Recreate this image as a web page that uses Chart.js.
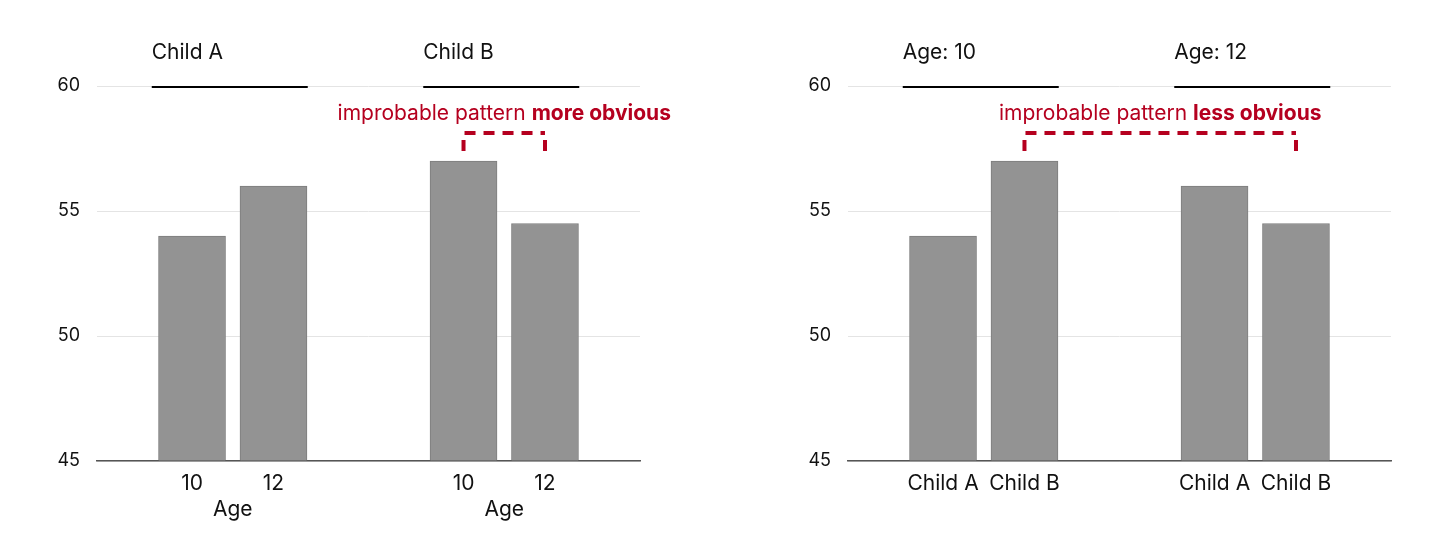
<!DOCTYPE html>
<html>
<head>
<meta charset="utf-8">
<script src="https://cdn.jsdelivr.net/npm/chart.js@4"></script>
<style>
  html, body { margin: 0; padding: 0; background: #fff; }
  .wrap { position: absolute; top: 0; width: 728px; height: 554px; }
  #w1 { left: 0; }
  #w2 { left: 728px; }
</style>
</head>
<body>
<div class="wrap" id="w1"><canvas id="leftChart"></canvas></div>
<div class="wrap" id="w2"><canvas id="rightChart"></canvas></div>
<script>
// values
const yTicks = [45, 50, 55, 60];

const leftGroups = ['Child A', 'Child B'];
const leftTicks = ['10', '12'];
const leftAxisTitle = 'Age';
const leftValues = [54, 56, 57, 54.5];
const leftNote = ['improbable pattern ', 'more obvious'];
const leftPair = [2, 3];

const rightGroups = ['Age: 10', 'Age: 12'];
const rightTicks = ['Child A', 'Child B'];
const rightValues = [54, 57, 56, 54.5];
const rightNote = ['improbable pattern ', 'less obvious'];
const rightPair = [1, 3];

const FONT = 'Inter, "Noto Sans", sans-serif';
const RED = '#b5001f';
const INK = '#111';

// bar slots: two groups of two on a 0..10 linear axis
function slot(i) {
    const g = Math.floor(i / 2);
    return 2.5 + 5 * g + (i % 2 === 0 ? -0.75 : 0.75);
}

const annotate = {
    id: 'annotate',
    afterDraw(chart, args, opts) {
        const ctx = chart.ctx;
        const x = chart.scales.x;
        const y = chart.scales.y;
        const top = y.getPixelForValue(60);
        ctx.save();
        // group headers
        opts.groups.forEach((name, g) => {
            const c = x.getPixelForValue(2.5 + 5 * g);
            ctx.fillStyle = INK;
            ctx.font = '21px ' + FONT;
            ctx.textAlign = 'left';
            ctx.textBaseline = 'alphabetic';
            ctx.fillText(name, c - 81, 59);
            ctx.strokeStyle = '#000';
            ctx.lineWidth = 2;
            ctx.beginPath();
            ctx.moveTo(c - 81, top + 1);
            ctx.lineTo(c + 75, top + 1);
            ctx.stroke();
        });
        // dashed bracket
        const xa = x.getPixelForValue(slot(opts.pair[0]));
        const xb = x.getPixelForValue(slot(opts.pair[1]));
        const yTop = top + 47;
        const yBot = top + 65;
        ctx.strokeStyle = RED;
        ctx.lineWidth = 4;
        ctx.setLineDash([11, 8]);
        ctx.beginPath();
        ctx.moveTo(xa, yBot);
        ctx.lineTo(xa, yTop);
        ctx.lineTo(xb, yTop);
        ctx.stroke();
        // right leg drawn from the bottom up so it always shows
        ctx.beginPath();
        ctx.moveTo(xb, yBot);
        ctx.lineTo(xb, yTop);
        ctx.stroke();
        ctx.setLineDash([]);
        // note text, centred over the bracket
        const mid = (xa + xb) / 2;
        ctx.font = '21px ' + FONT;
        const w1 = ctx.measureText(opts.note[0]).width;
        ctx.font = 'bold 21px ' + FONT;
        const w2 = ctx.measureText(opts.note[1]).width;
        const start = mid - (w1 + w2) / 2;
        ctx.fillStyle = RED;
        ctx.textAlign = 'left';
        ctx.font = '21px ' + FONT;
        ctx.fillText(opts.note[0], start, top + 34);
        ctx.font = 'bold 21px ' + FONT;
        ctx.fillText(opts.note[1], start + w1, top + 34);
        ctx.restore();
    }
};

function makeChart(id, values, groups, ticks, axisTitle, note, pair, axisWidth, padRight) {
    const scales = {
        x: {
            type: 'linear',
            min: 0,
            max: 10,
            offset: false,
            afterBuildTicks: s => { s.ticks = values.map((v, i) => ({ value: slot(i) })); },
            afterFit: s => { s.height = 36; },
            ticks: {
                autoSkip: false,
                maxRotation: 0,
                padding: 10,
                color: INK,
                font: { family: FONT, size: 21 },
                callback: (v, i) => ticks[i % 2]
            },
            grid: { display: false, drawTicks: false, offset: false },
            border: { display: true, color: '#555', width: 1.5 }
        },
        y: {
            min: 45,
            max: 60,
            afterBuildTicks: s => { s.ticks = yTicks.map(v => ({ value: v })); },
            afterFit: s => { s.width = axisWidth; },
            ticks: {
                padding: 17,
                color: INK,
                font: { family: FONT, size: 18 }
            },
            grid: { color: '#e4e4e4', lineWidth: 1, drawTicks: false },
            border: { display: false }
        }
    };
    if (axisTitle) {
        scales.x2 = {
            type: 'linear',
            position: 'bottom',
            min: 0,
            max: 10,
            offset: false,
            afterBuildTicks: s => { s.ticks = groups.map((g, i) => ({ value: 2.5 + 5 * i })); },
            afterFit: s => { s.height = 26; },
            ticks: {
                autoSkip: false,
                maxRotation: 0,
                padding: 0,
                color: INK,
                font: { family: FONT, size: 21 },
                callback: () => axisTitle
            },
            grid: { display: false, drawTicks: false },
            border: { display: false }
        };
    }
    return new Chart(document.getElementById(id), {
        type: 'bar',
        data: {
            datasets: [{
                data: values.map((v, i) => ({ x: slot(i), y: v })),
                base: 45,
                backgroundColor: '#939393',
                borderColor: '#7d7d7d',
                borderWidth: 1,
                barThickness: 67
            }]
        },
        options: {
            responsive: true,
            maintainAspectRatio: false,
            animation: false,
            layout: { padding: { top: 86, right: padRight, left: 0, bottom: axisTitle ? 31 : 57 } },
            plugins: {
                legend: { display: false },
                tooltip: { enabled: false },
                annotate: { groups: groups, note: note, pair: pair }
            },
            scales: scales
        },
        plugins: [annotate]
    });
}

makeChart('leftChart', leftValues, leftGroups, leftTicks, leftAxisTitle, leftNote, leftPair, 97, 88);
makeChart('rightChart', rightValues, rightGroups, rightTicks, null, rightNote, rightPair, 120, 65);
</script>
</body>
</html>
